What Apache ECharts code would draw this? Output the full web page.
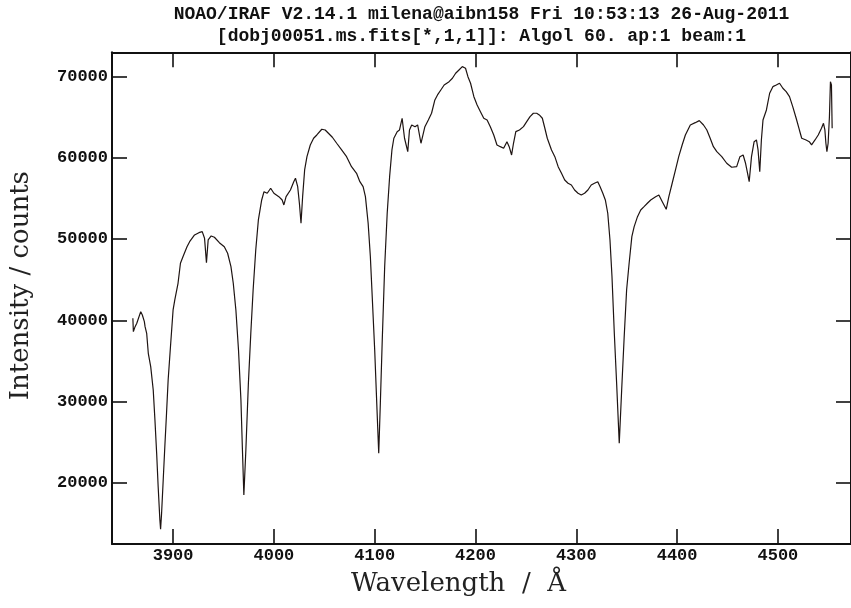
<!DOCTYPE html>
<html>
<head>
<meta charset="utf-8">
<script src="https://cdn.jsdelivr.net/npm/echarts@6/dist/echarts.min.js"></script>
<style>html,body{margin:0;padding:0;background:#fff}#c{width:851px;height:608px}</style>
</head>
<body>
<div id="c"></div>
<script>
// Title lines
const titleLine1 = 'NOAO/IRAF V2.14.1 milena@aibn158 Fri 10:53:13 26-Aug-2011';
const titleLine2 = '[dobj00051.ms.fits[*,1,1]]: Algol 60. ap:1 beam:1';
const xName = 'Wavelength  /  Å';
const yName = 'Intensity / counts';
// Axis ranges
const xRange = [3839.4, 4572.5];
const yRange = [12450, 73000];
// Spectrum: wavelength (Å)
const wavelength = [
3860.1,3860.6,3862.3,3864.0,3865.6,3867.9,3869.5,3871.5,3872.2,3873.8,3875.4,3877.8,3880.3,3882.0,3883.7,3885.2,3886.9,3887.6,3888.6,3890.2,
3891.8,3893.5,3895.1,3897.4,3900.0,3901.7,3904.9,3907.3,3909.8,3913.8,3916.4,3921.3,3925.6,3928.9,3931.2,3933.1,3934.8,3937.8,3941.0,3945.9,
3950.8,3954.1,3957.4,3959.7,3962.3,3964.9,3967.3,3968.8,3970.2,3972.2,3974.7,3977.1,3979.4,3982.0,3984.6,3987.9,3990.2,3993.4,3996.8,4000.0,
4004.9,4008.2,4009.9,4012.1,4016.4,4019.7,4021.4,4023.6,4025.3,4026.9,4028.5,4030.5,4032.8,4036.1,4039.4,4042.6,4047.5,4050.9,4054.1,4058.0,
4062.3,4067.2,4072.1,4077.0,4082.0,4085.3,4088.5,4090.8,4093.5,4095.7,4097.7,4100.0,4102.3,4104.0,4105.6,4107.5,4109.9,4112.4,4114.8,4117.1,
4119.0,4122.3,4124.6,4127.2,4129.6,4132.8,4134.5,4136.7,4140.0,4142.6,4145.9,4149.8,4153.2,4156.4,4159.7,4162.3,4165.6,4168.9,4173.8,4177.1,
4180.3,4183.6,4186.9,4190.1,4192.5,4195.1,4198.4,4201.6,4204.9,4208.2,4211.5,4214.7,4218.1,4221.3,4224.6,4227.9,4231.2,4233.4,4235.8,4237.7,
4240.0,4243.6,4247.6,4250.8,4254.1,4257.4,4260.7,4263.3,4266.3,4268.8,4271.2,4275.4,4278.7,4282.0,4285.3,4288.5,4291.8,4295.1,4298.3,4301.7,
4304.9,4308.2,4311.5,4314.8,4318.0,4321.3,4323.6,4326.3,4328.8,4331.2,4333.4,4335.4,4337.7,4340.0,4342.6,4345.0,4347.5,4349.9,4352.4,4355.1,
4357.4,4360.7,4363.9,4367.2,4370.5,4373.8,4378.7,4381.9,4385.3,4389.2,4391.8,4395.1,4398.4,4401.6,4405.0,4408.2,4413.1,4418.0,4422.0,4426.2,
4429.5,4432.8,4436.0,4439.4,4444.3,4449.2,4454.1,4459.1,4462.3,4465.5,4467.9,4469.9,4471.5,4473.8,4476.4,4478.7,4480.3,4482.0,4483.6,4485.2,
4488.6,4491.8,4495.0,4498.4,4501.6,4504.9,4508.2,4511.5,4514.7,4518.1,4521.3,4523.6,4527.9,4531.1,4533.4,4536.8,4540.0,4543.2,4545.2,4546.6,
4547.6,4548.6,4549.8,4551.1,4552.1,4553.1,4553.8
];
// Spectrum: intensity (counts)
const intensity = [
40247,38597,39213,39631,39705,41060,40654,39829,39213,38400,35937,34287,31417,27723,23622,19509,15408,14263,16233,20334,
24435,28548,32649,36750,41269,42501,44557,47020,47833,49065,49681,50506,50789,50912,50099,47094,49890,50383,50222,49558,
49065,48252,46602,44557,41269,36343,30186,24028,18487,24028,32243,38400,43732,48658,52353,54816,55838,55641,56257,55641,
55222,54816,54200,55222,56047,57069,57488,56454,54409,51946,55222,58510,60148,61589,62414,62821,63523,63436,63030,62538,
61798,60973,60148,58917,58104,57069,56454,55222,51946,47833,42501,36343,28954,23622,29780,37575,46602,53178,57685,60973,
62414,63227,63436,64877,62414,60764,63436,64052,63843,64052,61798,63843,64668,65493,67131,67747,68362,68978,69385,69803,
70419,70825,71232,71035,70000,69188,67537,66515,65690,64877,64668,63843,62821,61589,61380,61183,61996,61380,60358,61798,
63227,63436,63843,64459,65074,65493,65493,65284,64877,63646,62414,60973,60148,58917,58104,57279,56873,56663,56047,55641,
55432,55641,56047,56663,56873,57069,56454,55641,54816,53178,49890,45370,38400,32243,24853,31417,37981,43732,47020,50296,
51528,52759,53584,53991,54409,54816,55222,55432,54607,53671,55222,56873,58510,60148,61589,62821,64052,64335,64582,64052,
63436,62414,61380,60764,60148,59336,58843,58917,60148,60358,59336,58104,57069,60148,61996,62205,60973,58301,62205,64668,
65899,67956,68769,68978,69188,68572,68153,67537,66306,64877,63436,62414,62205,61996,61589,62205,62821,63646,64262,63436,
61798,60764,61798,65074,69385,68978,63646
];

const seriesData = wavelength.map((w, i) => [w, intensity[i]]);

const frameColor = '#111';
const tickFont = {fontFamily: 'Liberation Mono', fontWeight: 'bold', fontSize: 17, color: '#111'};
const nameFont = {fontFamily: 'DejaVu Serif', fontSize: 26, color: '#222'};

function baseAxis(extra) {
  return Object.assign({
    type: 'value',
    axisLine: {show: true, onZero: false, lineStyle: {color: frameColor, width: 2}},
    axisTick: {show: true, inside: true, length: 15, lineStyle: {color: frameColor, width: 1.6}},
    splitLine: {show: false}
  }, extra);
}

const chart = echarts.init(document.getElementById('c'), null, {renderer: 'canvas'});
chart.setOption({
  backgroundColor: '#fff',
  animation: false,
  title: [
    {text: titleLine1, left: 481.5, top: 5, textAlign: 'center', padding: 0,
     textStyle: {fontFamily: 'Liberation Mono', fontWeight: 'bold', fontSize: 18, color: '#111'}},
    {text: titleLine2, left: 481.5, top: 27, textAlign: 'center', padding: 0,
     textStyle: {fontFamily: 'Liberation Mono', fontWeight: 'bold', fontSize: 18, color: '#111'}}
  ],
  grid: {left: 111.7, right: -6, top: 52.3, bottom: 64, containLabel: false},
  xAxis: [
    baseAxis({position: 'bottom', min: xRange[0], max: xRange[1], splitNumber: 7,
      axisLabel: Object.assign({show: true, margin: 3, showMinLabel: false, showMaxLabel: false,
        formatter: v => String(v)}, tickFont),
      name: xName, nameLocation: 'middle', nameGap: 27,
      nameTextStyle: Object.assign({padding: [0, 46, 0, 0]}, nameFont)}),
    baseAxis({position: 'top', min: xRange[0], max: xRange[1], splitNumber: 7,
      axisLabel: {show: false}})
  ],
  yAxis: [
    baseAxis({position: 'left', min: yRange[0], max: yRange[1], splitNumber: 6,
      axisLabel: Object.assign({show: true, margin: 4, showMinLabel: false, showMaxLabel: false,
        formatter: v => String(v)}, tickFont),
      name: yName, nameLocation: 'middle', nameGap: 78,
      nameTextStyle: Object.assign({padding: [0, 0, 0, 25]}, nameFont)}),
    baseAxis({position: 'right', min: yRange[0], max: yRange[1], splitNumber: 6,
      axisLabel: {show: false}})
  ],
  series: [{
    type: 'line',
    xAxisIndex: 0,
    yAxisIndex: 0,
    data: seriesData,
    showSymbol: false,
    symbol: 'none',
    smooth: false,
    lineStyle: {color: '#1e1412', width: 1.2},
    silent: true
  }]
});
</script>
</body>
</html>
